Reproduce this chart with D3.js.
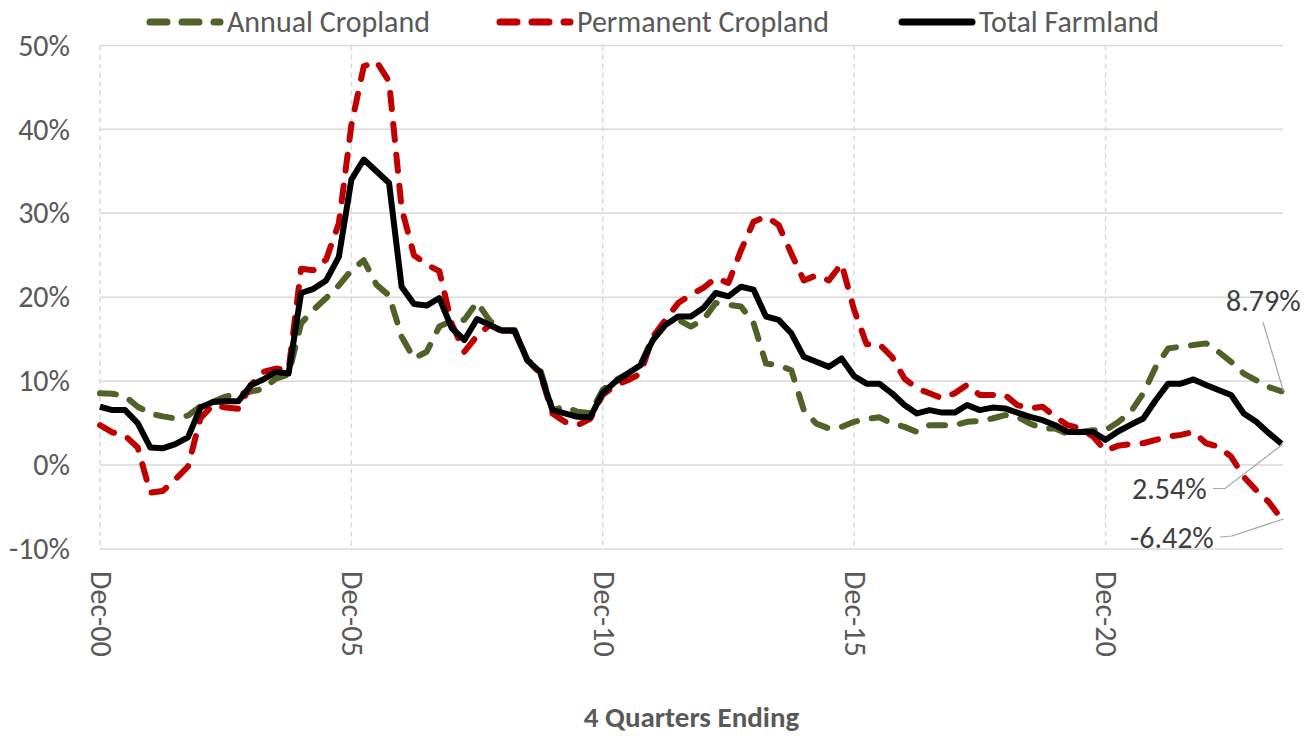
<!DOCTYPE html>
<html>
<head>
<meta charset="utf-8">
<script src="https://cdn.jsdelivr.net/npm/d3@7"></script>
<style>
  body { margin: 0; background: #fff; }
  svg text { font-family: Carlito, Calibri, Lato, sans-serif; fill: #595959; }
</style>
</head>
<body>
<svg id="chart" width="1314" height="736"></svg>
<script>
// 4-quarter growth, quarterly from Dec-00 to Jun-24 (percent)
var annual = [
  8.55, 8.5, 8.2, 6.95, 6.15, 5.8, 5.55, 5.9, 7.0, 7.55, 8.15, 8.45, 8.75, 9.1, 10.3, 10.8,
  16.9, 18.5, 19.9, 21.4, 23.2, 24.4, 21.5, 20.2, 15.3, 12.7, 13.5, 16.5, 17.2, 17.3, 19.4, 17.2,
  16.1, 16.1, 12.5, 11.5, 6.55, 6.95, 6.35, 6.2, 8.95, 10.1, 10.9, 11.9, 15.3, 16.9, 17.3, 16.5,
  17.3, 19.3, 19.1, 18.9, 16.9, 12.1, 11.9, 11.3, 6.55, 4.95, 4.35, 4.55, 5.15, 5.5, 5.7, 4.95,
  4.55, 3.95, 4.75, 4.75, 4.75, 5.15, 5.25, 5.55, 5.95, 5.75, 4.95, 4.35, 4.35, 3.7, 3.95, 4.15,
  4.15, 5.1, 6.3, 8.55, 11.7, 13.9, 14.1, 14.3, 14.5, 13.5, 12.3, 10.9, 10.1, 9.3, 8.79
];
var permanent = [
  4.75, 3.9, 3.5, 2.1, -3.3, -3.1, -1.7, -0.2, 5.6, 7.15, 6.85, 6.7, 9.5, 11.1, 11.5, 11.3,
  23.4, 23.2, 24.5, 28.8, 40.5, 47.5, 48.1, 45.7, 30.6, 25.0, 23.9, 23.1, 16.8, 13.5, 15.4, 16.7,
  15.9, 15.9, 12.5, 11.0, 6.15, 5.15, 4.75, 5.5, 8.35, 9.5, 10.1, 10.9, 15.3, 17.3, 19.3, 20.3,
  21.1, 22.3, 21.7, 25.6, 29.0, 29.6, 28.6, 25.2, 22.0, 22.6, 22.0, 24.0, 18.5, 14.4, 14.4, 12.9,
  10.3, 9.15, 8.55, 7.95, 8.55, 9.55, 8.35, 8.35, 8.35, 7.15, 6.75, 6.95, 5.75, 4.75, 4.35, 3.4,
  1.7, 2.3, 2.5, 2.6, 3.0, 3.4, 3.6, 3.95, 2.6, 2.2, 1.0, -1.4, -3.0, -4.4, -6.42
];
var total = [
  6.95, 6.55, 6.55, 5.0, 2.1, 2.0, 2.5, 3.3, 6.85, 7.5, 7.6, 7.6, 9.5, 10.2, 11.1, 10.9,
  20.5, 21.0, 22.0, 24.8, 34.0, 36.4, 35.0, 33.6, 21.25, 19.2, 19.0, 19.9, 16.3, 14.9, 17.4, 16.7,
  16.0, 16.0, 12.5, 11.1, 6.55, 6.15, 5.75, 5.7, 8.6, 9.9, 10.9, 11.9, 14.9, 16.7, 17.7, 17.7,
  18.7, 20.5, 20.1, 21.25, 20.9, 17.7, 17.3, 15.7, 12.9, 12.3, 11.7, 12.7, 10.6, 9.7, 9.7, 8.55,
  7.15, 6.15, 6.55, 6.25, 6.25, 7.15, 6.55, 6.85, 6.75, 6.25, 5.75, 5.35, 4.75, 3.95, 3.95, 3.95,
  3.0, 4.0, 4.8, 5.55, 7.75, 9.7, 9.7, 10.2, 9.55, 8.95, 8.35, 6.15, 5.15, 3.8, 2.54
];
var seriesNames = ["Annual Cropland", "Permanent Cropland", "Total Farmland"];
var seriesColors = ["#4f6228", "#c00000", "#000000"];
var tickLabels = ["Dec-00", "Dec-05", "Dec-10", "Dec-15", "Dec-20"];
var yTicks = [-10, 0, 10, 20, 30, 40, 50];

// quarter end dates
var dates = annual.map((d, k) => d3.timeMonth.offset(new Date(2000, 11, 31), 3 * k));
var tickDates = tickLabels.map((d, k) => dates[k * 20]);

var svg = d3.select("#chart");
var plotLeft = 100, plotRight = 1283, plotTop = 45.4, plotBottom = 549;

var x = d3.scaleTime()
    .domain([dates[0], d3.timeDay.offset(dates[dates.length - 1], 11)])
    .range([plotLeft, plotRight]);
var y = d3.scaleLinear().domain([-10, 50]).range([plotBottom, plotTop]);

// horizontal grid
svg.append("g").selectAll("line")
    .data(yTicks)
    .join("line")
    .attr("x1", plotLeft).attr("x2", plotRight)
    .attr("y1", d => y(d)).attr("y2", d => y(d))
    .attr("stroke", "#d9d9d9")
    .attr("stroke-width", 1.5);

// vertical dashed grid
svg.append("g").selectAll("line")
    .data(tickDates)
    .join("line")
    .attr("x1", d => x(d)).attr("x2", d => x(d))
    .attr("y1", plotTop).attr("y2", plotBottom)
    .attr("stroke", "#d9d9d9")
    .attr("stroke-width", 1.5)
    .attr("stroke-dasharray", "5,4");

// y labels
svg.append("g").selectAll("text")
    .data(yTicks)
    .join("text")
    .attr("x", 70)
    .attr("y", d => y(d))
    .attr("dy", "0.34em")
    .attr("text-anchor", "end")
    .style("font-size", "30px")
    .text(d => d + "%");

// x labels, rotated
svg.append("g").selectAll("text")
    .data(tickDates)
    .join("text")
    .attr("transform", d => "translate(" + (x(d) + 1) + ",571) rotate(90)")
    .attr("dy", "0.34em")
    .style("font-size", "30px")
    .text((d, k) => tickLabels[k]);

svg.append("text")
    .attr("x", (plotLeft + plotRight) / 2)
    .attr("y", 727)
    .attr("text-anchor", "middle")
    .style("font-size", "29px")
    .style("font-weight", "bold")
    .text("4 Quarters Ending");

var line = d3.line()
    .x((d, k) => x(dates[k]))
    .y(d => y(d));

var allSeries = [annual, permanent, total];
allSeries.forEach(function(s, k) {
    svg.append("path")
        .datum(s)
        .attr("d", line)
        .attr("fill", "none")
        .attr("stroke", seriesColors[k])
        .attr("stroke-width", 6)
        .attr("stroke-linejoin", "round")
        .attr("stroke-linecap", k < 2 ? "round" : "butt")
        .attr("stroke-dasharray", k < 2 ? "16,15" : null);
});

// end labels
var last = dates.length - 1;
var endX = x(dates[last]);
var callouts = [
    {txt: "8.79%", v: annual[last], tx: 1226, ty: 301, pts: [[1263, 322]]},
    {txt: "2.54%", v: total[last], tx: 1132, ty: 489, pts: [[1213, 488.5], [1225, 488.5]]},
    {txt: "-6.42%", v: permanent[last], tx: 1130, ty: 538, pts: [[1220, 537], [1232, 536]]}
];
callouts.forEach(function(c) {
    var p = c.pts.concat([[endX + 2, y(c.v)]]);
    svg.append("path")
        .attr("d", d3.line()(p))
        .attr("fill", "none")
        .attr("stroke", "#a6a6a6")
        .attr("stroke-width", 1.2);
    svg.append("text")
        .attr("x", c.tx)
        .attr("y", c.ty)
        .attr("dy", "0.34em")
        .style("font-size", "30px")
        .style("fill", "#404040")
        .text(c.txt);
});

// legend
var legendX = [147, 497, 899];
var legend = svg.append("g");
seriesNames.forEach(function(name, k) {
    var g = legend.append("g").attr("transform", "translate(" + legendX[k] + ",22)");
    g.append("line")
        .attr("x1", 3).attr("x2", 73)
        .attr("stroke", seriesColors[k])
        .attr("stroke-width", 7)
        .attr("stroke-linecap", "round")
        .attr("stroke-dasharray", k < 2 ? "17,15" : null);
    g.append("text")
        .attr("x", 80)
        .attr("dy", "0.34em")
        .style("font-size", "30px")
        .text(name);
});
</script>
</body>
</html>
